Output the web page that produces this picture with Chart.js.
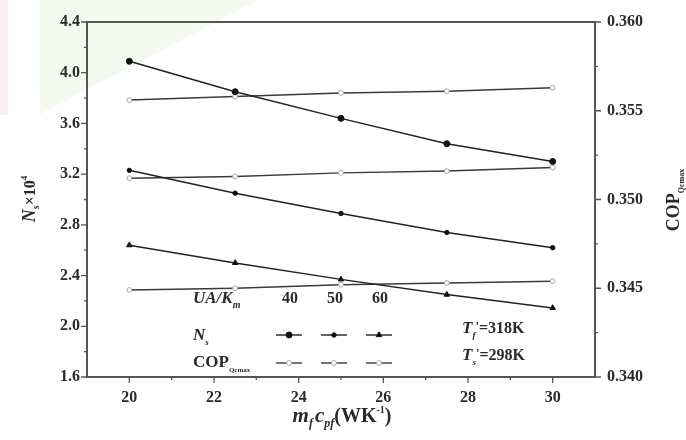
<!DOCTYPE html>
<html>
<head>
<meta charset="utf-8">
<script src="https://cdn.jsdelivr.net/npm/chart.js@4.4.0/dist/chart.umd.min.js"></script>
<style>
  html, body { margin: 0; padding: 0; background: #fff; }
  #wrap { width: 686px; height: 440px; }
</style>
</head>
<body>
<div id="wrap"><canvas id="copChart" width="686" height="440"></canvas></div>
<script>
// mass flow * heat capacity, W/K
const flowRates = [20, 22.5, 25, 27.5, 30];
const uaLabels = ['40', '50', '60'];

// N_s x 10^4 (left axis)
const ns40 = [4.09, 3.85, 3.64, 3.44, 3.30];
const ns50 = [3.23, 3.05, 2.89, 2.74, 2.62];
const ns60 = [2.64, 2.50, 2.37, 2.25, 2.145];

// COP_Qcmax (right axis)
const cop40 = [0.3556, 0.3558, 0.3560, 0.3561, 0.3563];
const cop50 = [0.3512, 0.3513, 0.3515, 0.3516, 0.3518];
const cop60 = [0.3449, 0.3450, 0.3452, 0.3453, 0.3454];

const SERIF = '"Liberation Serif", "DejaVu Serif", serif';
const INK = '#2a2a2a';
const AXIS = '#555';

function pts(ys) {
  return flowRates.map((x, i) => ({ x: x, y: ys[i] }));
}

function nsSet(label, ys, style, r) {
  return {
    label: label, data: pts(ys), yAxisID: 'y',
    borderColor: '#222', borderWidth: 1.5,
    pointStyle: style, pointRadius: r,
    pointBackgroundColor: '#111', pointBorderColor: '#111', pointBorderWidth: 1,
  };
}
function copSet(label, ys) {
  return {
    label: label, data: pts(ys), yAxisID: 'y2',
    borderColor: '#3a3a3a', borderWidth: 1.5,
    pointStyle: 'circle', pointRadius: 2.4,
    pointBackgroundColor: '#fff', pointBorderColor: '#aaa', pointBorderWidth: 1,
  };
}

// text made of runs (for sub/superscripts)
function runsWidth(ctx, runs) {
  let w = 0;
  runs.forEach(r => { ctx.font = r.f; w += ctx.measureText(r.t).width + (r.gap || 0); });
  return w;
}
function drawRuns(ctx, runs, x, y, align) {
  let cx = align === 'center' ? x - runsWidth(ctx, runs) / 2 : x;
  ctx.textAlign = 'left';
  ctx.textBaseline = 'alphabetic';
  runs.forEach(r => {
    ctx.font = r.f;
    ctx.fillText(r.t, cx, y + (r.dy || 0));
    cx += ctx.measureText(r.t).width + (r.gap || 0);
  });
}

const bi = s => 'bold italic ' + s + 'px ' + SERIF;
const b = s => 'bold ' + s + 'px ' + SERIF;

const decorPlugin = {
  id: 'decor',
  beforeDraw(chart) {
    const ctx = chart.ctx;
    ctx.save();
    ctx.fillStyle = '#fff';
    ctx.fillRect(0, 0, chart.width, chart.height);
    // faint scan watermark
    ctx.fillStyle = 'rgba(240,170,180,0.2)';
    ctx.fillRect(0, 0, 8, 115);
    ctx.fillStyle = 'rgba(220,240,200,0.3)';
    ctx.beginPath();
    ctx.moveTo(40, 0); ctx.lineTo(258, 0); ctx.lineTo(40, 114); ctx.closePath();
    ctx.fill();
    ctx.restore();
  },
  afterDraw(chart) {
    const ctx = chart.ctx;
    const area = chart.chartArea;
    const sx = chart.scales.x, sy = chart.scales.y, sy2 = chart.scales.y2;
    ctx.save();

    // top frame line
    ctx.strokeStyle = AXIS;
    ctx.lineWidth = 2;
    ctx.beginPath();
    ctx.moveTo(area.left, area.top); ctx.lineTo(area.right, area.top);
    ctx.stroke();

    // outward tick marks, major + minor
    ctx.lineWidth = 1.3;
    ctx.beginPath();
    for (let v = 20; v <= 30; v++) {
      const px = sx.getPixelForValue(v);
      const len = v % 2 === 0 ? 6 : 3;
      ctx.moveTo(px, area.bottom); ctx.lineTo(px, area.bottom + len);
    }
    for (let k = 16; k <= 44; k += 2) {
      const py = sy.getPixelForValue(k / 10);
      const len = k % 4 === 0 ? 6 : 3;
      ctx.moveTo(area.left, py); ctx.lineTo(area.left - len, py);
    }
    for (let k = 0; k <= 8; k++) {
      const py = sy2.getPixelForValue(0.34 + k * 0.0025);
      const len = k % 2 === 0 ? 6 : 3;
      ctx.moveTo(area.right, py); ctx.lineTo(area.right + len, py);
    }
    ctx.stroke();

    ctx.fillStyle = INK;

    // x axis title
    drawRuns(ctx, [
      { t: 'm', f: bi(21) },
      { t: 'f', f: bi(12), dy: 5, gap: 2 },
      { t: 'c', f: bi(21) },
      { t: 'pf', f: bi(12), dy: 5 },
      { t: '(WK', f: b(20) },
      { t: '-1', f: b(10), dy: -9 },
      { t: ')', f: b(20) },
    ], 342, 422, 'center');

    // left axis title
    ctx.save();
    ctx.translate(35, 199);
    ctx.rotate(-Math.PI / 2);
    drawRuns(ctx, [
      { t: 'N', f: bi(18) },
      { t: 's', f: bi(10), dy: 4 },
      { t: '×10', f: b(16) },
      { t: '4', f: b(9), dy: -8 },
    ], 0, 0, 'center');
    ctx.restore();

    // right axis title
    ctx.save();
    ctx.translate(679, 200);
    ctx.rotate(-Math.PI / 2);
    drawRuns(ctx, [
      { t: 'COP', f: b(18) },
      { t: 'Qcmax', f: b(8), dy: 5 },
    ], 0, 0, 'center');
    ctx.restore();

    // in-plot legend table
    const cols = [289, 334, 379];
    drawRuns(ctx, [{ t: 'UA/K', f: bi(17) }, { t: 'm', f: bi(10), dy: 5 }], 193, 303);
    ctx.font = b(16);
    ctx.textAlign = 'center';
    uaLabels.forEach((u, i) => ctx.fillText(u, cols[i] + 1, 303));
    drawRuns(ctx, [{ t: 'N', f: bi(17) }, { t: 's', f: bi(9), dy: 5 }], 193, 340);
    drawRuns(ctx, [{ t: 'COP', f: b(17) }, { t: 'Qcmax', f: b(7), dy: 5 }], 193, 367);

    const rows = [[0, 1, 2, 335], [3, 4, 5, 363]];
    rows.forEach(row => {
      for (let i = 0; i < 3; i++) {
        const ds = chart.data.datasets[row[i]];
        const cx = cols[i], cy = row[3];
        ctx.strokeStyle = ds.borderColor;
        ctx.lineWidth = 1.4;
        ctx.beginPath();
        ctx.moveTo(cx - 13, cy); ctx.lineTo(cx + 13, cy);
        ctx.stroke();
        ctx.fillStyle = ds.pointBackgroundColor;
        ctx.strokeStyle = ds.pointBorderColor;
        ctx.lineWidth = ds.pointBorderWidth;
        Chart.helpers.drawPoint(ctx, {
          pointStyle: ds.pointStyle, radius: ds.pointRadius, rotation: 0, borderWidth: ds.pointBorderWidth,
        }, cx, cy);
      }
    });

    // conditions
    ctx.fillStyle = INK;
    drawRuns(ctx, [
      { t: 'T', f: bi(17) }, { t: 'f', f: bi(9), dy: 5 },
      { t: '\'', f: b(13), dy: -3 }, { t: '=318K', f: b(16) },
    ], 462, 333);
    drawRuns(ctx, [
      { t: 'T', f: bi(17) }, { t: 's', f: bi(9), dy: 5 },
      { t: '\'', f: b(13), dy: -3 }, { t: '=298K', f: b(16) },
    ], 462, 360);

    ctx.restore();
  },
};

const tickFont = { family: SERIF, size: 16, weight: 'bold' };

const chart = new Chart(document.getElementById('copChart').getContext('2d'), {
  type: 'line',
  data: {
    datasets: [
      nsSet('Ns 40', ns40, 'circle', 3),
      nsSet('Ns 50', ns50, 'circle', 2.2),
      nsSet('Ns 60', ns60, 'triangle', 3.2),
      copSet('COP 40', cop40),
      copSet('COP 50', cop50),
      copSet('COP 60', cop60),
    ],
  },
  options: {
    responsive: false,
    animation: false,
    layout: { padding: { top: 22, left: 0, right: 0, bottom: 0 } },
    plugins: { legend: { display: false }, tooltip: { enabled: false } },
    scales: {
      x: {
        type: 'linear', position: 'bottom', min: 19, max: 31,
        afterFit: s => { s.height = 63; },
        grid: { drawOnChartArea: false, drawTicks: false },
        border: { color: AXIS, width: 2 },
        ticks: {
          stepSize: 1, autoSkip: false, maxRotation: 0, padding: 11,
          color: INK, font: tickFont,
          callback: v => (v % 2 === 0 && v >= 20 && v <= 30) ? String(v) : '',
        },
      },
      y: {
        position: 'left', min: 1.6, max: 4.4,
        afterFit: s => { s.width = 87; },
        grid: { drawOnChartArea: false, drawTicks: false },
        border: { color: AXIS, width: 2 },
        ticks: {
          stepSize: 0.2, autoSkip: false, padding: 7,
          color: INK, font: tickFont,
          callback: v => Math.round(v * 10) % 4 === 0 ? v.toFixed(1) : '',
        },
      },
      y2: {
        position: 'right', min: 0.34, max: 0.36,
        afterFit: s => { s.width = 91; },
        grid: { drawOnChartArea: false, drawTicks: false },
        border: { color: AXIS, width: 2 },
        ticks: {
          stepSize: 0.0025, autoSkip: false, padding: 12,
          color: INK, font: tickFont,
          callback: v => Math.round(v * 10000) % 50 === 0 ? v.toFixed(3) : '',
        },
      },
    },
  },
  plugins: [decorPlugin],
});
</script>
</body>
</html>
